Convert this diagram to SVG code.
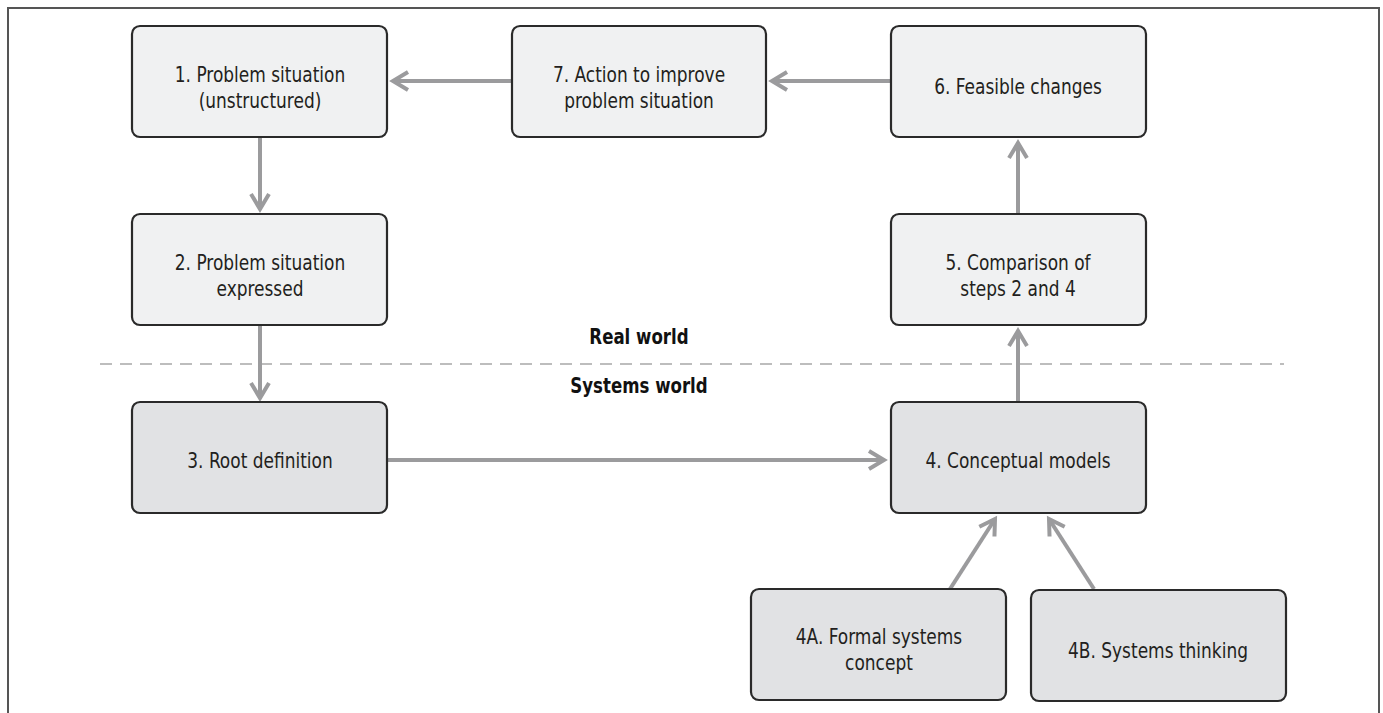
<svg xmlns="http://www.w3.org/2000/svg" width="1383" height="713" viewBox="0 0 1383 713">
<style>
.frame{fill:none;stroke:#555;stroke-width:2}
.box1{fill:#f0f1f2;stroke:#2a2a2a;stroke-width:2.2}
.box2{fill:#e1e2e4;stroke:#2a2a2a;stroke-width:2.2}
.lbl{font-family:"Liberation Sans Narrow","DejaVu Sans Condensed","Roboto Condensed","Liberation Sans",sans-serif;font-size:21px;fill:#231f20;text-anchor:middle;font-stretch:condensed;transform-box:fill-box;transform-origin:center;transform:scaleX(0.9)}
.hdr{font-family:"Liberation Sans Narrow","DejaVu Sans Condensed","Liberation Sans",sans-serif;font-size:22px;font-weight:bold;fill:#111;text-anchor:middle;font-stretch:condensed;transform-box:fill-box;transform-origin:center;transform:scaleX(0.84)}
.conn{fill:none;stroke:#9b9b9d;stroke-width:4;marker-end:url(#arr)}
.dash{stroke:#bdbdbd;stroke-width:2;stroke-dasharray:12 8}
</style>
<defs>
<marker id="arr" viewBox="-18 -12 22 24" refX="0" refY="0" markerWidth="22" markerHeight="24" markerUnits="userSpaceOnUse" orient="auto" overflow="visible">
<path d="M-15,-9 L0,0 L-15,9" fill="none" stroke="#9b9b9d" stroke-width="4" stroke-linejoin="miter"/>
</marker>
</defs>
<rect width="1383" height="713" fill="#fff"/>
<path class="frame" d="M8,713 L8,8 L1379,8 L1379,713"/>
<line class="dash" x1="100" y1="364" x2="1284" y2="364"/>
<text class="hdr" x="639" y="344">Real world</text>
<text class="hdr" x="639" y="393">Systems world</text>
<g id="connectors">
<line class="conn" x1="512" y1="81" x2="393" y2="81"/>
<line class="conn" x1="891" y1="81" x2="772" y2="81"/>
<line class="conn" x1="260" y1="137" x2="260" y2="209"/>
<line class="conn" x1="260" y1="325" x2="260" y2="398"/>
<line class="conn" x1="387" y1="460" x2="884" y2="460"/>
<line class="conn" x1="1018" y1="402" x2="1018" y2="331"/>
<line class="conn" x1="1018" y1="213" x2="1018" y2="143"/>
<line class="conn" x1="950" y1="589" x2="995" y2="519"/>
<line class="conn" x1="1094" y1="589" x2="1049" y2="519"/>
</g>
<g id="n1"><rect class="box1" x="132" y="26" width="255" height="111" rx="8"/><text class="lbl" x="260" y="82">1. Problem situation</text><text class="lbl" x="260" y="108">(unstructured)</text></g>
<g id="n7"><rect class="box1" x="512" y="26" width="254" height="111" rx="8"/><text class="lbl" x="639" y="82">7. Action to improve</text><text class="lbl" x="639" y="108">problem situation</text></g>
<g id="n6"><rect class="box1" x="891" y="26" width="255" height="111" rx="8"/><text class="lbl" x="1018" y="94">6. Feasible changes</text></g>
<g id="n2"><rect class="box1" x="132" y="214" width="255" height="111" rx="8"/><text class="lbl" x="260" y="270">2. Problem situation</text><text class="lbl" x="260" y="296">expressed</text></g>
<g id="n5"><rect class="box1" x="891" y="214" width="255" height="111" rx="8"/><text class="lbl" x="1018" y="270">5. Comparison of</text><text class="lbl" x="1018" y="296">steps 2 and 4</text></g>
<g id="n3"><rect class="box2" x="132" y="402" width="255" height="111" rx="8"/><text class="lbl" x="260" y="468">3. Root definition</text></g>
<g id="n4"><rect class="box2" x="891" y="402" width="255" height="111" rx="8"/><text class="lbl" x="1018" y="468">4. Conceptual models</text></g>
<g id="n4a"><rect class="box2" x="751" y="589" width="255" height="111" rx="8"/><text class="lbl" x="879" y="644">4A. Formal systems</text><text class="lbl" x="879" y="670">concept</text></g>
<g id="n4b"><rect class="box2" x="1031" y="590" width="255" height="111" rx="8"/><text class="lbl" x="1158" y="658">4B. Systems thinking</text></g>
</svg>
